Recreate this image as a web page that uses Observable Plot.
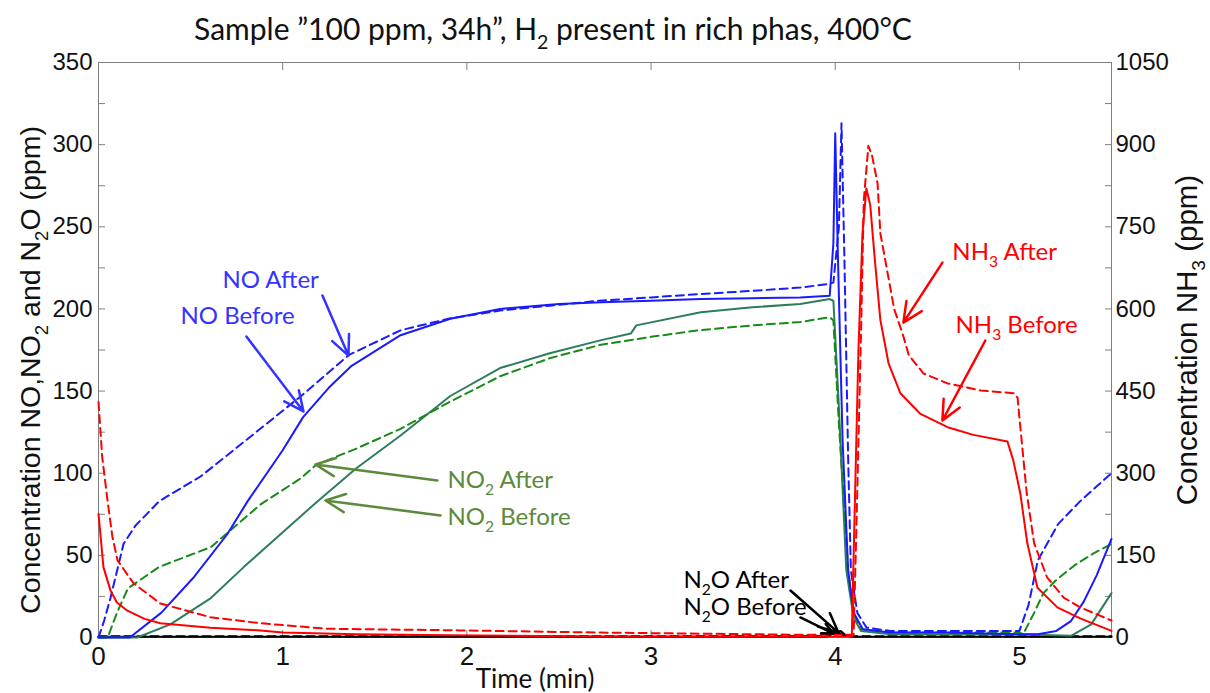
<!DOCTYPE html>
<html><head><meta charset="utf-8">
<script src="https://cdn.jsdelivr.net/npm/d3@7"></script>
<script src="https://cdn.jsdelivr.net/npm/@observablehq/plot@0.6"></script>
<style>body{margin:0;background:#fff} svg{display:block}</style>
</head><body><div id="chart"></div>
<script>
// ---- data: [time (min), concentration (ppm)] ----
const noBefore = [[0,0],[0.17,0],[0.34,15],[0.52,37],[0.70,63],[0.81,83],[1.0,114],[1.11,134],[1.25,152],[1.37,165],[1.64,184],[1.91,194],[2.18,200],[2.5,203],[2.73,204],[3.0,205],[3.27,206],[3.55,206.5],[3.81,207],[3.97,208],[3.99,240],[4.0,307],[4.015,230],[4.04,120],[4.07,41],[4.1,15],[4.15,5],[4.3,3],[4.6,3],[5.0,2],[5.1,2],[5.2,4],[5.28,10],[5.35,22],[5.42,38],[5.5,60]];
const noAfter = [[0,0],[0.03,10],[0.065,24],[0.136,57],[0.2,68],[0.33,83],[0.554,98],[0.8,120],[1.1,147],[1.36,172],[1.64,187],[1.9,194],[2.18,199],[2.45,202],[2.72,205],[3.0,207],[3.26,209],[3.55,211],[3.81,213],[3.95,215],[3.99,216],[4.02,250],[4.034,313],[4.05,230],[4.07,110],[4.085,41],[4.12,15],[4.17,6],[4.3,4],[4.6,4],[5.0,4],[5.05,20],[5.1,47],[5.21,69],[5.33,83],[5.42,92],[5.5,100]];
const no2After = [[0,0],[0.05,0],[0.1,15],[0.16,30],[0.33,43],[0.61,55],[0.88,81],[1.1,97],[1.18,105],[1.4,115],[1.64,127],[1.9,143],[2.18,159],[2.45,170],[2.72,178],[3.0,183],[3.26,187],[3.55,190],[3.81,192],[3.97,195],[3.99,193],[4.02,130],[4.07,41],[4.1,15],[4.14,5],[4.3,3],[4.6,3],[5.0,3],[5.02,2],[5.08,15],[5.13,27],[5.2,35],[5.3,44],[5.4,51],[5.5,57]];
const no2Before = [[0,0],[0.21,0],[0.39,8],[0.61,24],[0.79,43],[0.97,61],[1.19,83],[1.4,103],[1.64,123],[1.91,147],[2.18,164],[2.45,173],[2.73,181],[2.89,185],[2.92,190],[3.27,198],[3.55,201],[3.81,203],[3.97,206],[3.99,205],[4.02,140],[4.06,41],[4.1,12],[4.14,4],[4.3,2],[4.6,2],[5.0,2],[5.28,1],[5.39,8],[5.5,27]];
const nh3Before = [[0,226],[0.027,128],[0.065,86],[0.1,64],[0.157,49],[0.25,34],[0.336,26],[0.608,18],[0.88,13],[1.0,9],[1.4,6],[1.91,4],[2.72,2],[3.5,1.5],[4.09,2],[4.1,150],[4.126,524],[4.148,738],[4.169,820],[4.19,790],[4.215,690],[4.245,580],[4.29,500],[4.354,446],[4.46,409],[4.61,384],[4.75,370],[4.935,358],[4.967,323],[5.005,263],[5.043,172],[5.098,91],[5.206,55],[5.33,35],[5.5,12]];
const nh3After = [[0,430],[0.02,330],[0.049,250],[0.075,185],[0.103,141],[0.19,99],[0.336,62],[0.608,37],[0.88,26],[1.24,16],[1.96,13],[2.72,9],[3.81,5],[4.1,5],[4.115,200],[4.14,555],[4.155,798],[4.18,898],[4.2,880],[4.23,829],[4.245,738],[4.32,600],[4.37,550],[4.40,515],[4.48,482],[4.61,464],[4.79,451],[4.97,446],[4.99,438],[5.005,384],[5.04,263],[5.08,172],[5.15,110],[5.24,73],[5.33,55],[5.5,31]];
const n2oBefore = [[0,0.5],[3.95,0.5],[3.98,2],[4.02,3],[4.05,1],[4.1,0.5],[5.5,0.5]];
const n2oAfter = [[0,0.8],[3.96,0.8],[3.99,3],[4.03,4],[4.06,1],[4.1,0.8],[5.5,0.8]];

// tick values
const xTicks = [0,1,2,3,4,5];
const yTicksLeft = [0,50,100,150,200,250,300,350];
const yMinorLeft = d3.range(0, 351, 25);
const nh3Factor = 3; // right axis = left axis * 3

// annotations (in left-axis units)
const labels = [
  {text:"NO After", x:0.673, y:217.3, color:"#3333ff"},
  {text:"NO Before", x:0.445, y:195.4, color:"#3333ff"},
  {text:"NO₂ After", x:1.895, y:95.6, color:"#5b8a3c"},
  {text:"NO₂ Before", x:1.895, y:73.0, color:"#5b8a3c"},
  {text:"NH₃ After", x:4.636, y:234.3, color:"#ff0000"},
  {text:"NH₃ Before", x:4.653, y:189.9, color:"#ff0000"},
  {text:"N₂O After", x:3.176, y:34.7, color:"#000000"},
  {text:"N₂O Before", x:3.176, y:18.3, color:"#000000"}
];
const arrows = [
  {x1:1.216, y1:208.2, x2:1.357, y2:171.6, color:"#3333ff"},
  {x1:0.803, y1:183.2, x2:1.113, y2:137.6, color:"#3333ff"},
  {x1:1.840, y1:95.6, x2:1.178, y2:105.3, color:"#5b8a3c"},
  {x1:1.857, y1:74.3, x2:1.232, y2:83.4, color:"#5b8a3c"},
  {x1:4.582, y1:228.2, x2:4.370, y2:191.7, color:"#ff0000"},
  {x1:4.815, y1:180.8, x2:4.582, y2:132.1, color:"#ff0000"},
  {x1:3.757, y1:28.6, x2:4.017, y2:3.0, color:"#000000"},
  {x1:3.811, y1:12.2, x2:3.990, y2:2.4, color:"#000000"}
];

const title = "Sample ”100 ppm, 34h”, H₂ present in rich phas, 400°C";
const yLabelLeft = "Concentration NO,NO₂ and N₂O (ppm)";
const yLabelRight = "Concentration NH₃ (ppm)";
const xLabel = "Time (min)";

const X = d => d[0], Y = d => d[1], Ynh3 = d => d[1] / nh3Factor;
const dash = "8,5";
const gray = "#808080";
const calib = "Lato, 'Open Sans', sans-serif";

const chart = Plot.plot({
  width: 1210, height: 693,
  marginLeft: 98, marginRight: 99, marginTop: 62, marginBottom: 56,
  style: {fontFamily: "'Liberation Sans', Arial, sans-serif", background: "#fff"},
  x: {domain: [0, 5.5]},
  y: {domain: [0, 350]},
  marks: [
    Plot.frame({stroke: gray}),
    Plot.axisX({anchor: "bottom", ticks: xTicks, tickSize: 0, tickPadding: 9, fontSize: 26, label: null, fill: "#111", tickFormat: d => String(d)}),
    Plot.axisX({anchor: "bottom", ticks: xTicks.slice(1), tickSize: -7, tickFormat: () => "", label: null, stroke: gray}),
    Plot.axisX({anchor: "top", ticks: xTicks.slice(1), tickSize: -7, tickFormat: () => "", label: null, stroke: gray}),
    Plot.axisY({anchor: "left", ticks: yTicksLeft, tickSize: 0, tickPadding: 6, fontSize: 24, label: null, fill: "#111", tickFormat: d => String(d)}),
    Plot.axisY({anchor: "left", ticks: yMinorLeft, tickSize: -7, tickFormat: () => "", label: null, stroke: gray}),
    Plot.axisY({anchor: "right", ticks: yTicksLeft, tickSize: 0, tickPadding: 4, fontSize: 24, label: null, fill: "#111", tickFormat: d => String(d * nh3Factor)}),
    Plot.axisY({anchor: "right", ticks: yMinorLeft, tickSize: -7, tickFormat: () => "", label: null, stroke: gray}),

    Plot.line(n2oBefore, {x: X, y: Y, stroke: "#000", strokeWidth: 2}),
    Plot.line(n2oAfter, {x: X, y: Y, stroke: "#000", strokeWidth: 2, strokeDasharray: dash}),
    Plot.line(no2Before, {x: X, y: Y, stroke: "#2e7d5a", strokeWidth: 2}),
    Plot.line(no2After, {x: X, y: Y, stroke: "#178a17", strokeWidth: 2, strokeDasharray: dash}),
    Plot.line(noBefore, {x: X, y: Y, stroke: "#1a1aff", strokeWidth: 2}),
    Plot.line(noAfter, {x: X, y: Y, stroke: "#1a1aff", strokeWidth: 2, strokeDasharray: dash}),
    Plot.line(nh3Before, {x: X, y: Ynh3, stroke: "#ff0000", strokeWidth: 2}),
    Plot.line(nh3After, {x: X, y: Ynh3, stroke: "#ff0000", strokeWidth: 2, strokeDasharray: dash}),

    Plot.arrow(arrows, {x1: "x1", y1: "y1", x2: "x2", y2: "y2", stroke: "color", strokeWidth: 2.5, headLength: 13, headAngle: 50}),
    Plot.text(labels, {x: "x", y: "y", text: "text", fill: "color", textAnchor: "start", fontSize: 24, fontFamily: calib}),

    Plot.text([title], {frameAnchor: "top", textAnchor: "middle", lineAnchor: "middle", dx: -52, dy: -32, fontSize: 30, fontFamily: calib, fill: "#111"}),
    Plot.text([xLabel], {frameAnchor: "bottom", textAnchor: "middle", lineAnchor: "middle", dx: -70, dy: 42, fontSize: 26, fontFamily: calib, fill: "#111"}),
    Plot.text([yLabelLeft], {frameAnchor: "left", textAnchor: "middle", lineAnchor: "middle", rotate: -90, dx: -68, dy: 20, fontSize: 28.5, fill: "#111"}),
    Plot.text([yLabelRight], {frameAnchor: "right", textAnchor: "middle", lineAnchor: "middle", rotate: -90, dx: 76, dy: -10, fontSize: 29.5, fill: "#111"})
  ]
});
document.getElementById("chart").appendChild(chart);

// render unicode subscripts as real subscript tspans
const subs = "₀₁₂₃₄₅₆₇₈₉";
d3.select(chart).selectAll("text").each(function() {
  const el = this;
  const s = el.textContent;
  if (!/[₀-₉]/.test(s) || el.children.length) return;
  const fs = parseFloat(getComputedStyle(el).fontSize) || 20;
  const shift = fs * 0.28;
  el.textContent = "";
  let down = false;
  s.split(/([₀-₉])/).forEach(p => {
    if (!p) return;
    const k = subs.indexOf(p);
    const ts = d3.select(el).append("tspan");
    if (k >= 0) { ts.text(String(k)).attr("font-size", fs * 0.65).attr("dy", shift); down = true; }
    else { ts.text(p); if (down) { ts.attr("dy", -shift); down = false; } }
  });
});
</script></body></html>
